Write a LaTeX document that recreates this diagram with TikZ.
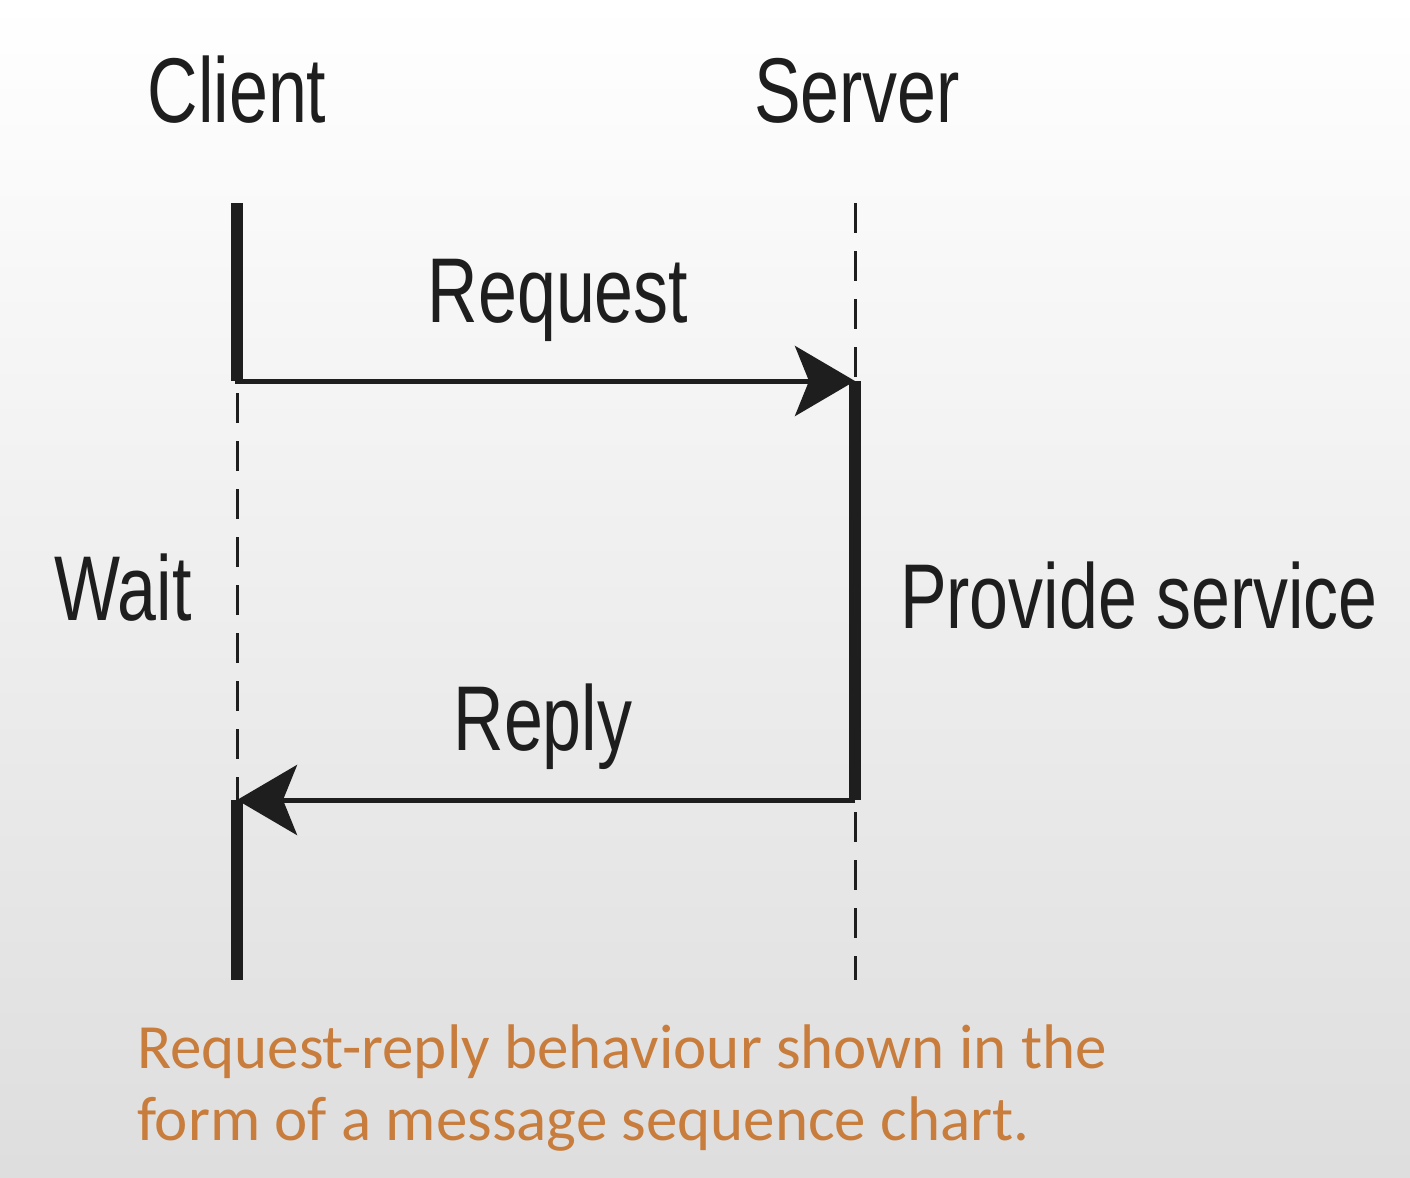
\documentclass[tikz,border=0pt]{standalone}
\usepackage{fontspec}
\setmainfont{Liberation Sans}[FakeStretch=0.76]
\newfontfamily\capfont{Carlito}
\usepackage{xcolor}
\definecolor{captxt}{RGB}{200,125,60}
\definecolor{ink}{RGB}{30,30,30}
\usetikzlibrary{arrows.meta,positioning}

\begin{document}
\begin{tikzpicture}[x=0.5pt,y=-0.5pt,
	every node/.style={inner sep=0,outer sep=0},
	lbl/.style={text=ink,font=\fontsize{46}{50}\selectfont},
	life/.style={draw=ink,line width=6pt},
	idle/.style={draw=ink,line width=1.5pt,dash pattern=on 15pt off 9pt},
	msg/.style={draw=ink,line width=2.5pt,-{Stealth[length=30pt,width=35pt,inset=7pt]}}]
	% background
	\shade[top color=white,middle color=black!4,bottom color=black!13] (0,0) rectangle (1410,1178);
	\useasboundingbox (0,0) rectangle (1410,1178);
	% heads
	\node (client) [lbl,anchor=base] at (237,122) {Client};
	\node (server) [lbl,anchor=base] at (857,122) {Server};
	% lifelines
	\coordinate (c0) at (237,203);
	\coordinate (c1) at (237,381);
	\coordinate (c2) at (237,800);
	\coordinate (c3) at (237,980);
	\coordinate (s0) at (855,203);
	\coordinate (s1) at (855,381);
	\coordinate (s2) at (855,800);
	\coordinate (s3) at (855,980);
	\draw[life] (c0) -- (c1);
	\draw[idle,dash phase=18pt] (c1) -- (c2);
	\draw[life] (c2) -- (c3);
	\draw[idle] (s0) -- (s1);
	\draw[life] (s1) -- (s2);
	\draw[idle,dash phase=18pt] (s2) -- (s3);
	% messages
	\draw[msg] ([xshift=-1pt]c1) -- (s1);
	\draw[msg] (s2) -- (c2);
	\node (req) [lbl,anchor=base] at (558,322) {Request};
	\node (rep) [lbl,anchor=base] at (543,750) {Reply};
	\node (wait) [lbl,anchor=base] at (123,620) {Wait};
	\node (serv) [lbl,anchor=base west] at (900,628) {Provide service};
	% caption
	\node (cap) [anchor=base west,align=left,text=captxt,font=\capfont\fontsize{31.5}{36}\selectfont] at (137,1140)
		{Request-reply behaviour shown in the\\form of a message sequence chart.};
\end{tikzpicture}
\end{document}
